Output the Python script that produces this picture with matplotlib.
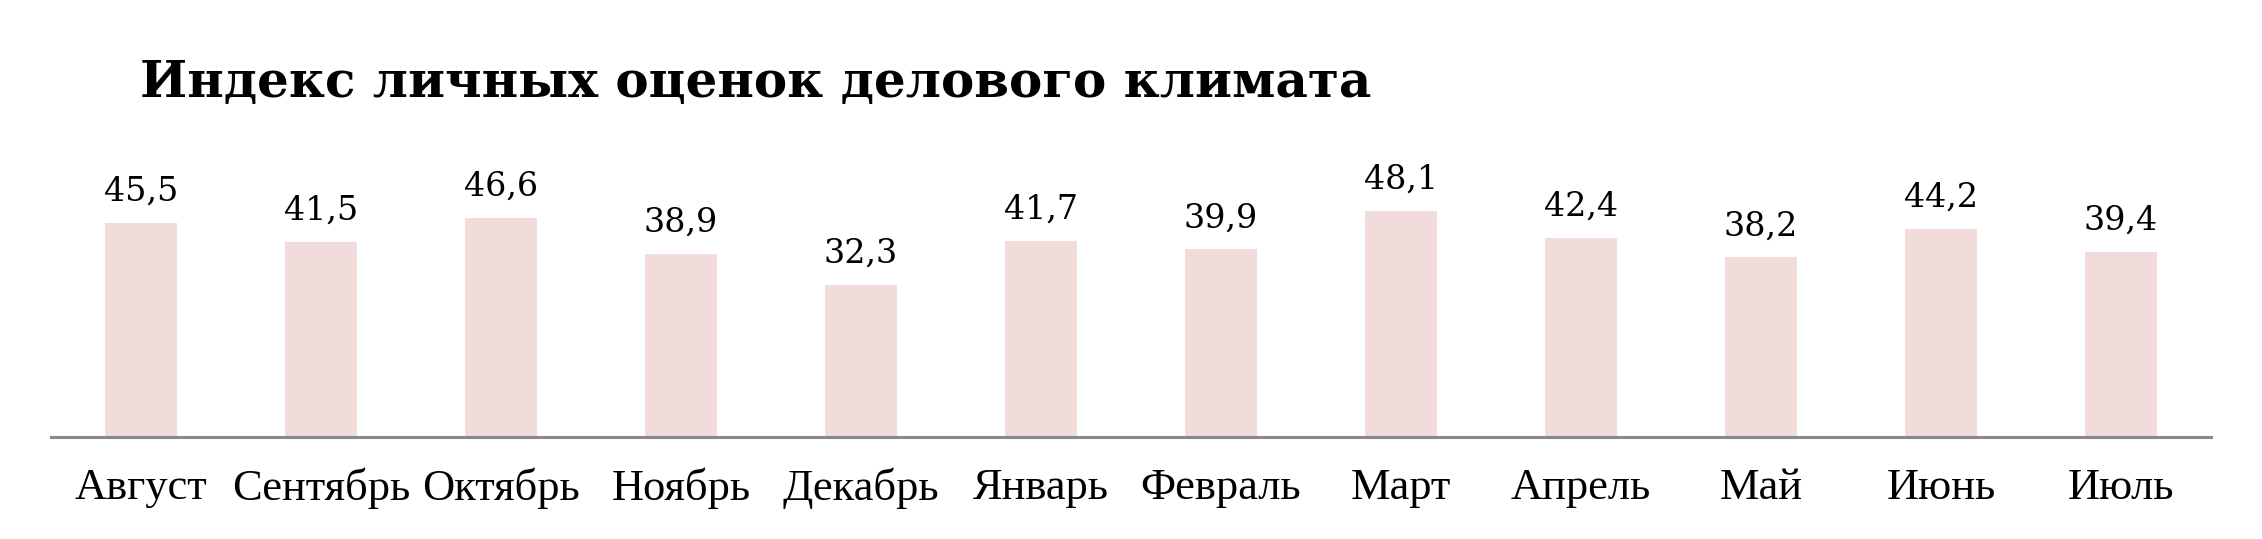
import numpy as np
import matplotlib.pyplot as plt

months = ['Август', 'Сентябрь', 'Октябрь', 'Ноябрь', 'Декабрь', 'Январь',
          'Февраль', 'Март', 'Апрель', 'Май', 'Июнь', 'Июль']
values = [45.5, 41.5, 46.6, 38.9, 32.3, 41.7, 39.9, 48.1, 42.4, 38.2, 44.2, 39.4]
title = 'Индекс личных оценок делового климата'

W, H = 2262, 539
bar_color = '#f2dcdb'
axis_color = '#898989'


def main():
    fig = plt.figure(figsize=(W / 100, H / 100), dpi=100)
    ax = fig.add_axes([51 / W, 102 / H, 2160 / W, 282 / H])

    x = np.arange(len(months))
    ax.bar(x, values, width=0.4, color=bar_color, zorder=1)
    ax.set_xlim(-0.5, len(months) - 0.5)
    ax.set_ylim(0, 60)

    # value labels with decimal comma
    for xi, v in zip(x, values):
        ax.annotate(('%.1f' % v).replace('.', ','), (xi, v),
                    xytext=(0, 16), textcoords='offset points',
                    ha='center', va='baseline',
                    family='DejaVu Serif', fontsize=24, color='black')

    for s in ['top', 'left', 'right']:
        ax.spines[s].set_visible(False)
    ax.spines['bottom'].set_color(axis_color)
    ax.spines['bottom'].set_linewidth(2.2)
    ax.spines['bottom'].set_zorder(3)
    ax.set_yticks([])
    ax.set_xticks(x)
    ax.set_xticklabels(months, family='Liberation Serif', fontsize=32)
    ax.tick_params(axis='x', length=0, pad=22)

    fig.text(140 / W, 1 - 97 / H, title, family='DejaVu Serif',
             fontweight='bold', fontsize=36, va='baseline', ha='left')

    fig.savefig('out.png', dpi=100, facecolor='white')


if __name__ == '__main__':
    main()
